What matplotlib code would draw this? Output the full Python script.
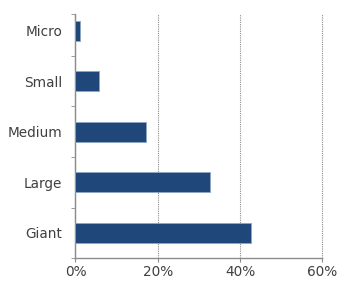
import matplotlib.pyplot as plt
from matplotlib.ticker import FuncFormatter

sizes = ['Micro', 'Small', 'Medium', 'Large', 'Giant']
shares = [1.1, 5.8, 17.1, 32.6, 42.7]
xticks = [0, 20, 40, 60]

fig = plt.figure(figsize=(3.37, 2.83), dpi=100)
ax = fig.add_axes([0.224, 0.088, 0.7325, 0.8625])

pos = range(len(sizes))
ax.barh(pos, shares, height=0.4, color='#1f477a', edgecolor='#8fa6c4', linewidth=0.6, zorder=3)

ax.set_xlim(0, 60)
ax.set_ylim(4.5, -0.33)
ax.set_xticks(xticks)
ax.xaxis.set_major_formatter(FuncFormatter(lambda v, p: '%d%%' % v))
ax.set_yticks(list(pos))
ax.set_yticklabels(sizes)
ax.set_yticks([-0.33, 0.5, 1.5, 2.5, 3.5, 4.5], minor=True)

ax.grid(axis='x', linestyle=(0, (1, 1)), color='#8c8c8c', linewidth=0.8, zorder=0)
for gl in ax.get_xgridlines():
    gl.set_clip_on(False)
for s in ['top', 'right']:
    ax.spines[s].set_visible(False)
for s in ['left', 'bottom']:
    ax.spines[s].set_color('#8c8c8c')
    ax.spines[s].set_linewidth(1)

ax.tick_params(axis='y', which='major', length=0, pad=9.5, labelsize=9.8, labelcolor='#404040')
ax.tick_params(axis='y', which='minor', length=3, color='#8c8c8c')
ax.tick_params(axis='x', length=3, color='#8c8c8c', labelsize=9.8, labelcolor='#404040', pad=2)

fig.savefig('out.png')
